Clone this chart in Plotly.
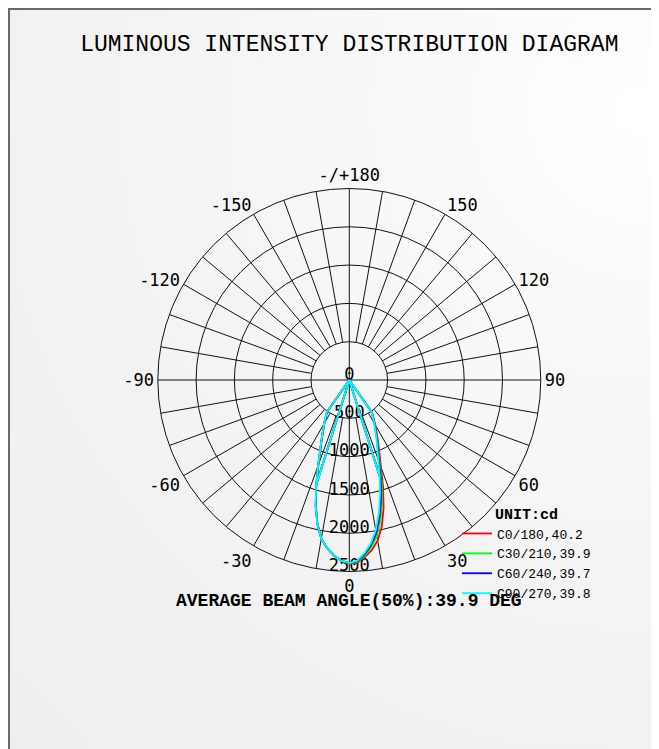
import plotly.graph_objects as go

# ---------------- data ----------------
TITLE = "LUMINOUS INTENSITY DISTRIBUTION DIAGRAM"
BEAM_TEXT = "AVERAGE BEAM ANGLE(50%):39.9 DEG"
UNIT_TEXT = "UNIT:cd"

# gamma angles (deg), 0 = straight down
GAMMA = [-90, -40, -35, -30, -25, -20, -17.5, -15, -12.5, -10, -7.5, -5, -2.5,
         0, 2.5, 5, 7.5, 10, 12.5, 15, 17.5, 20, 25, 30, 35, 40, 90]

I_C0 = [0, 0, 505, 650, 850, 1180, 1430, 1690, 1920, 2100, 2215, 2300, 2365,
        2395, 2385, 2320, 2240, 2130, 1960, 1730, 1465, 1210, 890, 680, 515, 0, 0]
I_C30 = [0, 0, 510, 655, 855, 1185, 1435, 1695, 1925, 2105, 2215, 2300, 2365,
         2392, 2375, 2300, 2200, 2070, 1880, 1650, 1400, 1160, 870, 665, 510, 0, 0]
I_C60 = [0, 0, 512, 658, 858, 1188, 1438, 1698, 1928, 2105, 2215, 2300, 2365,
         2390, 2368, 2285, 2175, 2030, 1830, 1600, 1360, 1135, 855, 658, 508, 0, 0]
I_C90 = [0, 0, 515, 660, 860, 1190, 1440, 1700, 1930, 2105, 2215, 2300, 2365,
         2390, 2360, 2270, 2150, 1990, 1780, 1550, 1320, 1110, 840, 650, 505, 0, 0]

SERIES_NAMES = ["C0/180,40.2", "C30/210,39.9", "C60/240,39.7", "C90/270,39.8"]
SERIES_COLORS = ["#ff0000", "#00ff00", "#0000ff", "#00ffff"]
SERIES_VALUES = [I_C0, I_C30, I_C60, I_C90]

INNER_GAMMA = 17.5  # radial strokes from the centre to the lobe

RADIAL_TICKS = [0, 500, 1000, 1500, 2000, 2500]
RADIAL_LABELS = ["0", "500", "1000", "1500", "2000", "2500"]
ANGLE_TICKS = [0, 30, 60, 90, 120, 150, 180, 210, 240, 270, 300, 330]
ANGLE_LABELS = ["0", "30", "60", "90", "120", "150", "-/+180",
                "-150", "-120", "-90", "-60", "-30"]
R_MAX = 2500

# ---------------- layout geometry (figure pixels) ----------------
W, H = 659, 749
OFF = 8                        # page body margin
CX, CY, RAD = 349.3 - OFF, 380.0 - OFF, 191.5
LBL_SHIFT = 4.5 * R_MAX / RAD  # radial labels sit just above their ring

fig = go.Figure()

# background gradient (cartesian helper layer)
GX, GY, GR = 632, 102, 950
fig.add_trace(go.Scatter(
    x=[GX - GR, GX + GR, GX + GR, GX - GR, GX - GR],
    y=[GY - GR, GY - GR, GY + GR, GY + GR, GY - GR],
    mode="lines", line=dict(width=0), fill="toself",
    fillgradient=dict(type="radial",
                      colorscale=[[0, "#ffffff"], [0.2, "#fafafa"], [0.55, "#f3f3f3"], [1, "#eeeeee"]]),
    hoverinfo="skip", showlegend=False, xaxis="x", yaxis="y"))

# spokes every 10 deg (from first ring outward)
sp_t, sp_r = [], []
for a in range(0, 360, 10):
    if a % 90 == 0:
        continue
    sp_t += [a, a, None]
    sp_r += [RADIAL_TICKS[1], R_MAX, None]
# main axes through the centre
for a in (0, 90):
    sp_t += [a, a, a + 180, None]
    sp_r += [R_MAX, 0, R_MAX, None]
fig.add_trace(go.Scatterpolar(theta=sp_t, r=sp_r, mode="lines",
                              line=dict(color="#111111", width=1),
                              hoverinfo="skip", showlegend=False))

# radial labels (centred slightly above their ring on the downward axis)
lbl_theta = [0 if v >= LBL_SHIFT else 180 for v in RADIAL_TICKS]
lbl_r = [abs(v - LBL_SHIFT) for v in RADIAL_TICKS]
fig.add_trace(go.Scatterpolar(
    theta=lbl_theta, r=lbl_r, text=RADIAL_LABELS,
    mode="text", textposition="middle center", cliponaxis=False,
    textfont=dict(family="DejaVu Sans Mono", size=17, color="#000000"),
    hoverinfo="skip", showlegend=False))

# intensity curves
k = GAMMA.index(INNER_GAMMA)
kn = GAMMA.index(-INNER_GAMMA)
for name, col, vals in zip(SERIES_NAMES, SERIES_COLORS, SERIES_VALUES):
    th = GAMMA + [None, -INNER_GAMMA, -INNER_GAMMA, None, INNER_GAMMA, INNER_GAMMA]
    rr = vals + [None, 0, vals[kn], None, 0, vals[k]]
    fig.add_trace(go.Scatterpolar(theta=th, r=rr, mode="lines", name=name,
                                  line=dict(color=col, width=1.8),
                                  connectgaps=False))

fig.update_layout(
    width=W, height=H, autosize=False,
    margin=dict(l=0, r=0, t=0, b=0),
    paper_bgcolor="#ffffff", plot_bgcolor="rgba(0,0,0,0)",
    xaxis=dict(domain=[1 / W, 1], range=[1, W], visible=False, fixedrange=True),
    yaxis=dict(domain=[0, 1 - 1 / H], range=[H, 1], visible=False, fixedrange=True),
    polar=dict(
        domain=dict(x=[(CX - RAD) / W, (CX + RAD) / W],
                    y=[1 - (CY + RAD) / H, 1 - (CY - RAD) / H]),
        bgcolor="rgba(0,0,0,0)",
        radialaxis=dict(range=[0, R_MAX], tickvals=RADIAL_TICKS[1:],
                        showticklabels=False, ticks="", showline=False,
                        showgrid=True, gridcolor="#111111", gridwidth=1),
        angularaxis=dict(rotation=-90, direction="counterclockwise",
                         tickvals=ANGLE_TICKS, ticktext=ANGLE_LABELS,
                         ticks="", showgrid=False, showline=True,
                         linecolor="#111111", linewidth=1,
                         tickfont=dict(family="DejaVu Sans Mono", size=17, color="#000000")),
    ),
    title=dict(text=TITLE, x=CX / W, xanchor="center", y=1 - (43 - OFF) / H, yanchor="middle",
               font=dict(family="Liberation Mono", size=23, color="#000000")),
    legend=dict(x=449 / W, y=1 - 491 / H, xanchor="left", yanchor="top",
                bgcolor="rgba(0,0,0,0)", borderwidth=0,
                font=dict(family="Liberation Mono", size=13, color="#000000"),
                title=dict(text="<b>" + UNIT_TEXT + "</b>", side="top center",
                           font=dict(family="Liberation Mono", size=15, color="#000000")),
                tracegroupgap=0),
    annotations=[dict(text="<b>" + BEAM_TEXT + "</b>", x=CX / W, y=1 - (601 - OFF) / H,
                      xref="paper", yref="paper", xanchor="center", yanchor="middle",
                      showarrow=False,
                      font=dict(family="Liberation Mono", size=18, color="#000000"))],
    shapes=[dict(type="rect", xref="paper", yref="paper",
                 x0=1 / W, x1=1.2, y0=-0.2, y1=1 - 1 / H,
                 line=dict(color="#6a6a6a", width=2), layer="above")],
)

fig.write_html("out.html")
